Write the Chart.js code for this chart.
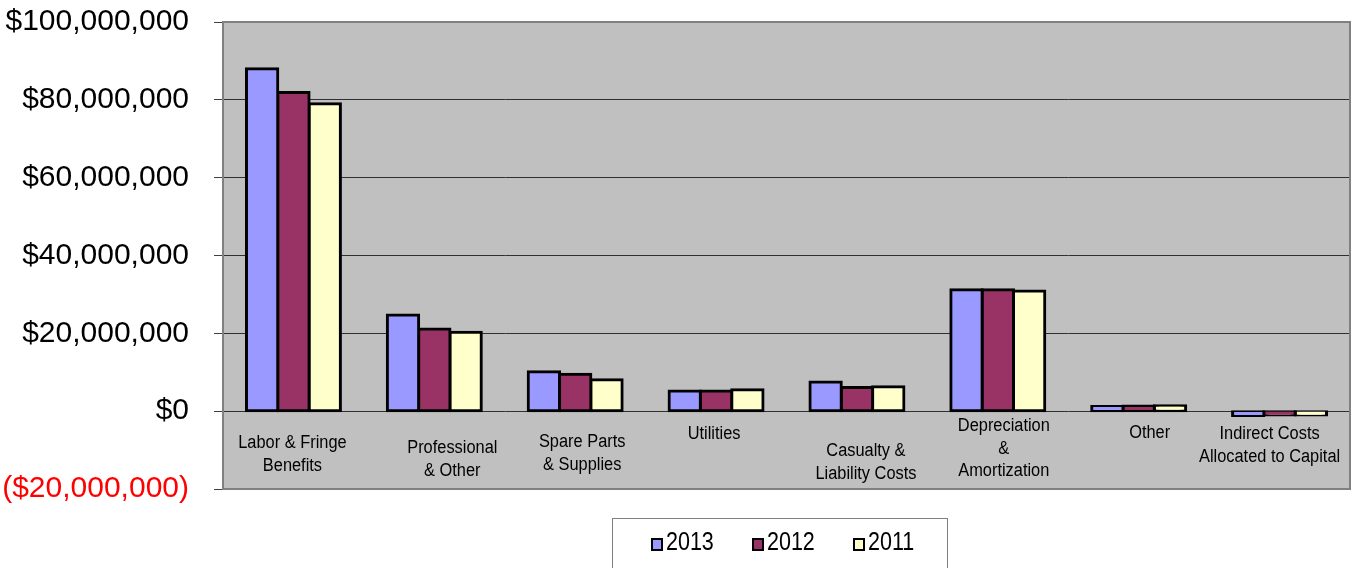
<!DOCTYPE html>
<html>
<head>
<meta charset="utf-8">
<script src="https://cdn.jsdelivr.net/npm/chart.js@4/dist/chart.umd.min.js"></script>
<style>
  html, body { margin: 0; padding: 0; background: #ffffff; }
  #wrap { width: 1353px; height: 568px; position: relative; }
</style>
</head>
<body>
<div id="wrap"><canvas id="c" width="1353" height="568"></canvas></div>
<script>
const categories = [
  ['Labor & Fringe', 'Benefits'],
  ['Professional', '& Other'],
  ['Spare Parts', '& Supplies'],
  ['Utilities'],
  ['Casualty &', 'Liability Costs'],
  ['Depreciation', '&', 'Amortization'],
  ['Other'],
  ['Indirect Costs', 'Allocated to Capital']
];
const seriesNames = ['2013', '2012', '2011'];
const values2013 = [88000000, 24700000, 10100000, 5200000, 7500000, 31200000, 1200000, -1100000];
const values2012 = [81900000, 21100000, 9500000, 5200000, 6100000, 31200000, 1300000, -1000000];
const values2011 = [79000000, 20300000, 8100000, 5500000, 6300000, 30900000, 1400000, -1000000];
const yMin = -20000000;
const yMax = 100000000;
const yStep = 20000000;

const seriesColors = ['#9999FF', '#993366', '#FFFFCC'];
const FONT = "'Liberation Sans', Arial, sans-serif";

// label placement (style only): [dx, dy of first line below zero line]
const labelPlacement = [[-1, 32], [18, 37], [7, 31], [-2, 23], [9, 40], [6, 15], [11, 22], [-10, 23]];
const labelLineHeight = 22.5;

function fmtMoney(v) {
  const s = Math.abs(v).toLocaleString('en-US');
  return v < 0 ? '($' + s + ')' : '$' + s;
}

const plotBg = {
  id: 'plotBg',
  beforeDraw(chart) {
    const {ctx, chartArea: a} = chart;
    ctx.save();
    ctx.fillStyle = '#C0C0C0';
    ctx.fillRect(a.left, a.top, a.right - a.left, a.bottom - a.top);
    ctx.restore();
  },
  beforeDatasetsDraw(chart) {
    const {ctx, chartArea: a} = chart;
    ctx.save();
    ctx.strokeStyle = '#808080';
    ctx.lineWidth = 2;
    ctx.strokeRect(a.left, a.top, a.right - a.left, a.bottom - a.top);
    ctx.restore();
  }
};

const catLabels = {
  id: 'catLabels',
  afterDraw(chart) {
    const {ctx} = chart;
    const xs = chart.scales.x, ys = chart.scales.y;
    const y0 = ys.getPixelForValue(0);
    ctx.save();
    ctx.fillStyle = '#000';
    ctx.font = '18px ' + FONT;
    ctx.textAlign = 'center';
    ctx.textBaseline = 'middle';
    categories.forEach((lines, i) => {
      const cx = xs.getPixelForValue(i) + labelPlacement[i][0];
      lines.forEach((ln, j) => {
        const cy = y0 + labelPlacement[i][1] + j * labelLineHeight;
        ctx.save();
        ctx.translate(cx, cy);
        ctx.scale(0.91, 1);
        ctx.fillText(ln, 0, 0);
        ctx.restore();
      });
    });
    ctx.restore();

    // legend
    ctx.save();
    ctx.strokeStyle = '#808080';
    ctx.lineWidth = 1;
    ctx.fillStyle = '#fff';
    ctx.fillRect(612.5, 518.5, 335, 60);
    ctx.strokeRect(612.5, 518.5, 335, 60);
    const sq = [651, 752, 853];
    seriesNames.forEach((n, i) => {
      ctx.fillStyle = '#000';
      ctx.fillRect(sq[i], 538, 12, 13);
      ctx.fillStyle = seriesColors[i];
      ctx.fillRect(sq[i] + 2, 540, 8, 9);
      ctx.save();
      ctx.translate(sq[i] + 15, 543);
      ctx.scale(0.86, 1);
      ctx.fillStyle = '#000';
      ctx.font = '25px ' + FONT;
      ctx.textAlign = 'left';
      ctx.textBaseline = 'middle';
      ctx.fillText(n, 0, 0);
      ctx.restore();
    });
    ctx.restore();
  }
};

const allValues = [values2013, values2012, values2011];
new Chart(document.getElementById('c'), {
  type: 'bar',
  data: {
    labels: categories,
    datasets: seriesNames.map((n, i) => ({
      label: n,
      data: allValues[i],
      backgroundColor: seriesColors[i],
      borderColor: '#000000',
      borderWidth: 3,
      borderSkipped: false,
      inflateAmount: 1.5,
      barPercentage: 1.0,
      categoryPercentage: 0.667
    }))
  },
  options: {
    responsive: false,
    animation: false,
    devicePixelRatio: 1,
    layout: { padding: { left: 0, top: 22, right: 3, bottom: 79 } },
    plugins: { legend: { display: false }, tooltip: { enabled: false } },
    scales: {
      x: { display: false },
      y: {
        min: yMin,
        max: yMax,
        afterFit(s) { s.width = 223; s.paddingTop = 0; s.paddingBottom = 0; },
        ticks: {
          stepSize: yStep,
          padding: 25,
          font: { family: FONT, size: 30 },
          color: (c) => (c.tick && c.tick.value < 0) ? '#FF0000' : '#000000',
          callback: (v) => fmtMoney(v)
        },
        grid: {
          color: '#303030',
          lineWidth: 1,
          tickLength: 9,
          tickColor: '#404040'
        },
        border: { display: true, color: '#606060', width: 2 }
      }
    }
  },
  plugins: [plotBg, catLabels]
});
</script>
</body>
</html>
